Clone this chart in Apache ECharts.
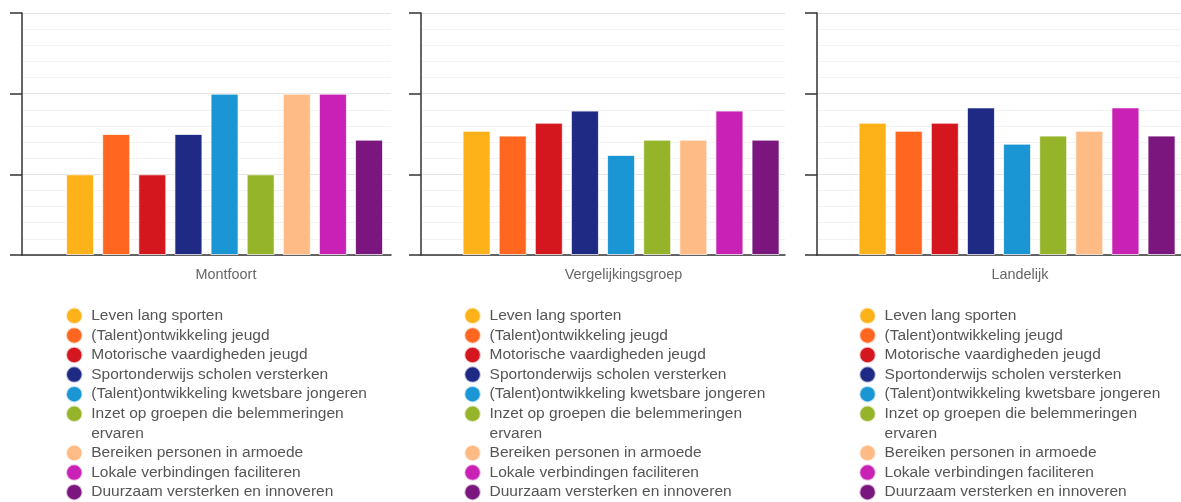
<!DOCTYPE html>
<html><head><meta charset="utf-8">
<script src="https://cdn.jsdelivr.net/npm/echarts@6/dist/echarts.min.js"></script>
<style>html,body{margin:0;padding:0;background:#fff}#c{width:1181px;height:502px}</style>
</head><body><div id="c"></div>
<script>
const panels = ['Montfoort', 'Vergelijkingsgroep', 'Landelijk'];
const seriesNames = [
  'Leven lang sporten',
  '(Talent)ontwikkeling jeugd',
  'Motorische vaardigheden jeugd',
  'Sportonderwijs scholen versterken',
  '(Talent)ontwikkeling kwetsbare jongeren',
  'Inzet op groepen die belemmeringen ervaren',
  'Bereiken personen in armoede',
  'Lokale verbindingen faciliteren',
  'Duurzaam versterken en innoveren'
];
const colors = ['#FDB21A', '#FF6620', '#D4171F', '#1E2A83', '#1A96D4', '#95B42A', '#FFBB85', '#C921B5', '#7A167E'];
const montfoort = [1.0, 1.5, 1.0, 1.5, 2.0, 1.0, 2.0, 2.0, 1.43];
const vergelijkingsgroep = [1.54, 1.48, 1.64, 1.79, 1.24, 1.43, 1.43, 1.79, 1.43];
const landelijk = [1.64, 1.54, 1.64, 1.83, 1.38, 1.48, 1.54, 1.83, 1.48];
const yMin = 0, yMax = 3, yInterval = 1;

const panelValues = [montfoort, vergelijkingsgroep, landelijk];
const gridLefts = [22, 421, 817];
const gridWidths = [369, 364, 364];
const legendLefts = [65, 463.3, 858.3];
const labelShift = [39, 41, 42];
const LINE = 19.6;
const LEG_FONT_SIZE = 15.5;
const LEG_MAX_W = 295;
const FONT = "'Liberation Sans', Arial, Helvetica, sans-serif";

const measureCtx = document.createElement('canvas').getContext('2d');
measureCtx.font = LEG_FONT_SIZE + 'px ' + FONT;
function legendFormatter(name) {
  if (measureCtx.measureText(name).width <= LEG_MAX_W) return name;
  const words = name.split(' ');
  let first = words[0], k = 1;
  while (k < words.length && measureCtx.measureText(first + ' ' + words[k]).width <= LEG_MAX_W) {
    first += ' ' + words[k]; k++;
  }
  return '{l1|' + first + '}\n{l2|' + words.slice(k).join(' ') + '}';
}

const grid = [], xAxis = [], yAxis = [], series = [], legend = [];
const legendText = {
  fontSize: LEG_FONT_SIZE, lineHeight: LINE, color: '#555', fontFamily: FONT,
  rich: {
    l1: { fontSize: LEG_FONT_SIZE, lineHeight: LINE, color: '#555', fontFamily: FONT },
    l2: { fontSize: LEG_FONT_SIZE, lineHeight: 0.001, verticalAlign: 'top', padding: [2, 0, 0, 0], color: '#555', fontFamily: FONT }
  }
};
panels.forEach((p, i) => {
  grid.push({ left: gridLefts[i], width: gridWidths[i], top: 13, height: 242 });
  xAxis.push({
    type: 'category', gridIndex: i, data: [p],
    axisLine: { lineStyle: { color: '#333', width: 1.5 } },
    axisTick: { show: false },
    axisLabel: { margin: 13, padding: [0, 0, 0, labelShift[i]], fontSize: 14.4, lineHeight: 14.4, color: '#666', fontFamily: FONT }
  });
  yAxis.push({
    type: 'value', gridIndex: i, min: yMin, max: yMax, interval: yInterval,
    axisLine: { show: true, lineStyle: { color: '#333', width: 1.5 } },
    axisTick: { show: true, length: 12, lineStyle: { color: '#333', width: 1.5 } },
    axisLabel: { show: false },
    splitLine: { lineStyle: { color: '#e4e4e4', width: 1 } },
    minorTick: { show: false, splitNumber: 5 },
    minorSplitLine: { show: true, lineStyle: { color: '#f2f2f2', width: 1 } }
  });
  // empty leading slot
  series.push({ type: 'bar', name: '', xAxisIndex: i, yAxisIndex: i, data: [null], barWidth: 28, barGap: '29%', silent: true });
  seriesNames.forEach((n, k) => {
    series.push({
      type: 'bar', name: n, xAxisIndex: i, yAxisIndex: i,
      data: [panelValues[i][k]],
      barWidth: 28, barGap: '29%',
      itemStyle: { color: colors[k], borderColor: 'rgba(255,255,255,0.7)', borderWidth: 1 }
    });
  });
  const common = {
    orient: 'vertical', left: legendLefts[i], height: 300, padding: 0,
    itemGap: 0, itemWidth: 24, itemHeight: 16.5, icon: 'circle',
    selectedMode: false, textStyle: legendText, formatter: legendFormatter
  };
  legend.push(Object.assign({}, common, { top: 306, data: seriesNames.slice(0, 6) }));
  legend.push(Object.assign({}, common, { top: 306 + 7 * LINE, data: seriesNames.slice(6) }));
});

const chart = echarts.init(document.getElementById('c'), null, { renderer: 'canvas' });
chart.setOption({
  animation: false,
  backgroundColor: '#fff',
  textStyle: { fontFamily: FONT },
  grid, xAxis, yAxis, series, legend
});
</script>
</body></html>
